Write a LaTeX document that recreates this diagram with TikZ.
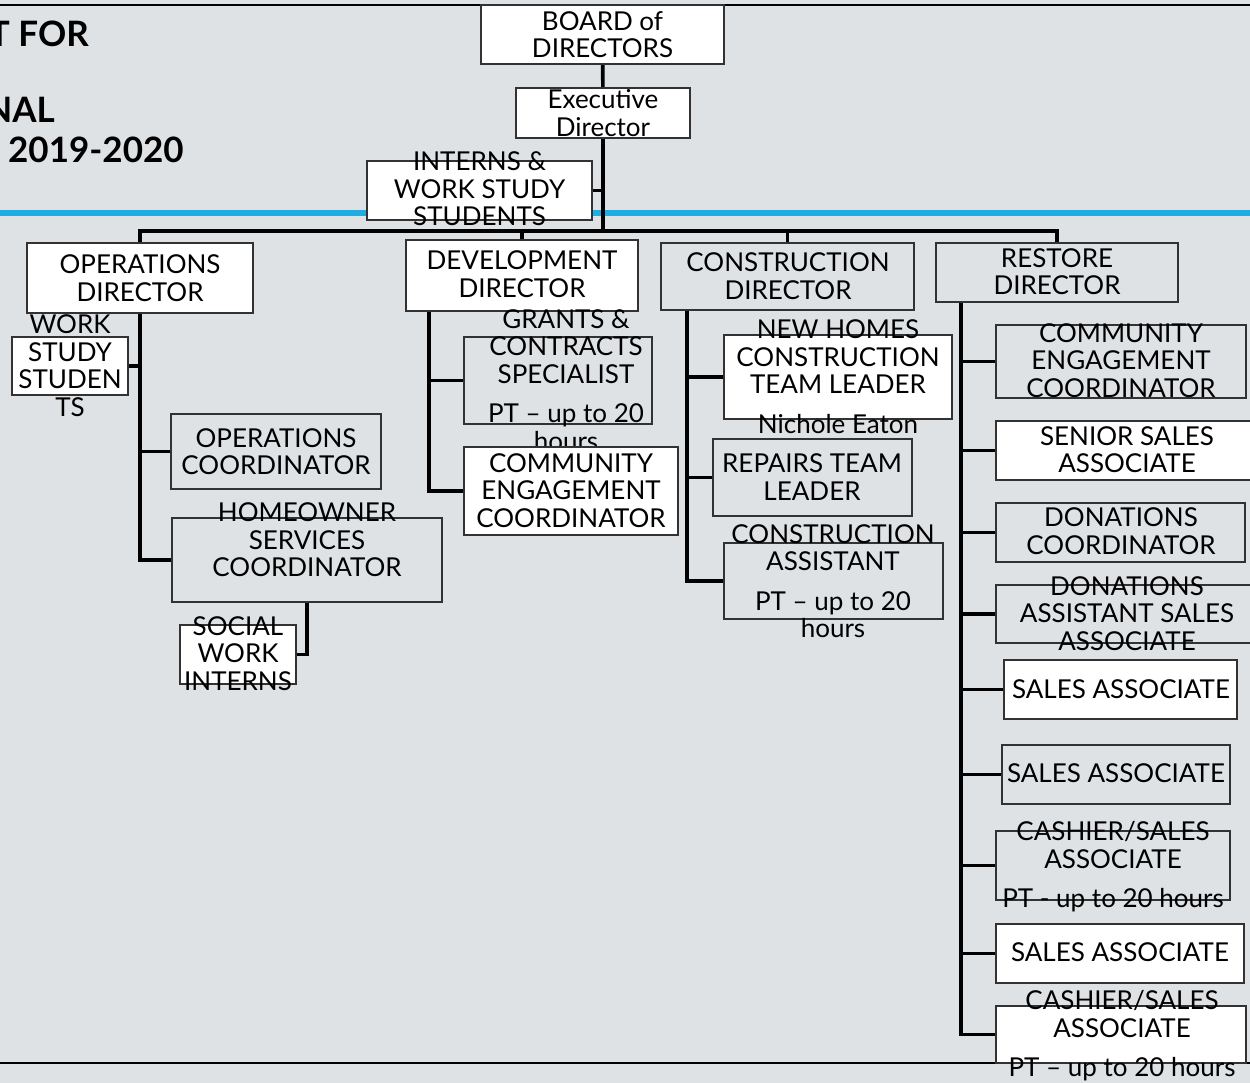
\documentclass[tikz,border=0pt]{standalone}
\usepackage{fontspec}
\setmainfont{Lato}
\usetikzlibrary{positioning}
\definecolor{slidegray}{RGB}{223,226,229}
\definecolor{slidelight}{RGB}{236,238,239}
\definecolor{accentblue}{RGB}{31,173,228}
\definecolor{boxedge}{RGB}{50,50,50}

\begin{document}
\begin{tikzpicture}[
    x=1pt, y=-1pt,
    box/.style={draw=boxedge, line width=2.4pt, inner sep=0pt},
    wbox/.style={box, fill=white},
    gbox/.style={box, fill=slidegray},
    txt/.style={font=\fontsize{26}{27.5}\selectfont, align=center, inner sep=0pt},
    link/.style={line width=3.6pt, black},
    title/.style={font=\fontsize{35}{37}\selectfont\bfseries, inner sep=0pt}
]
    \useasboundingbox (0,0) rectangle (1250,1083);
    \clip (0,0) rectangle (1250,1083);

    % Slide background
    \fill[slidegray] (0,0) rectangle (1250,1083);
    \shade[left color=slidegray, middle color=slidelight, right color=slidegray] (0,0) rectangle (1250,250);
    \draw[line width=1.5pt] (0,5) -- (1250,5);
    \draw[line width=1.5pt] (0,1063) -- (1250,1063);
    \draw[accentblue, line width=6pt] (0,213) -- (1250,213);

    % Title (cut off at the left)
    \node[title, anchor=east] (titleA) at (89,34) {T FOR};
    \node[title, anchor=east] (titleB) at (55,110) {NAL};
    \node[title, anchor=west] (titleC) at (8,150) {2019-2020};

    % Top
    \node[wbox, minimum width=243, minimum height=59] (board) at (602.5,34.5) {};
    \node[txt] (boardtxt) at (board) {BOARD of\\DIRECTORS};
    \node[wbox, minimum width=174, minimum height=50] (exec) at (603,113) {};
    \node[txt] (exectxt) at (exec) {Executive\\Director};
    \node[wbox, minimum width=225, minimum height=59] (interns) at (479.5,190.5) {};
    \node[txt] (internstxt) at (479.5,189) {INTERNS \&\\WORK STUDY\\STUDENTS};

    % Operations
    \node[wbox, minimum width=226, minimum height=70] (opsdir) at (140,278) {};
    \node[txt] (opsdirtxt) at (opsdir) {OPERATIONS\\DIRECTOR};
    \node[wbox, minimum width=116, minimum height=58] (workstudy) at (70,366) {};
    \node[txt] (workstudytxt) at (70,365.5) {WORK\\STUDY\\STUDEN\\TS};
    \node[gbox, minimum width=210, minimum height=75] (opscoord) at (276,451.5) {};
    \node[txt] (opscoordtxt) at (opscoord) {OPERATIONS\\COORDINATOR};
    \node[gbox, minimum width=270, minimum height=84] (homeowner) at (307,560) {};
    \node[txt] (homeownertxt) at (307,540) {HOMEOWNER\\SERVICES\\COORDINATOR};
    \node[wbox, minimum width=116, minimum height=59] (social) at (238,654.5) {};
    \node[txt] (socialtxt) at (238,653.5) {SOCIAL\\WORK\\INTERNS};

    % Development
    \node[wbox, minimum width=232, minimum height=71] (devdir) at (522,275.5) {};
    \node[txt] (devdirtxt) at (522,274) {DEVELOPMENT\\DIRECTOR};
    \node[gbox, minimum width=188, minimum height=87] (grants) at (558,380.5) {};
    \node[txt] (grantstxt) at (566,380) {GRANTS \&\\CONTRACTS\\SPECIALIST\\[12pt]PT -- up to 20\\hours};
    \node[wbox, minimum width=214, minimum height=88] (commdev) at (571,491) {};
    \node[txt] (commdevtxt) at (571,490.5) {COMMUNITY\\ENGAGEMENT\\COORDINATOR};

    % Construction
    \node[gbox, minimum width=253, minimum height=67] (consdir) at (787.5,276.5) {};
    \node[txt] (consdirtxt) at (788,276) {CONSTRUCTION\\DIRECTOR};
    \node[wbox, minimum width=228, minimum height=84] (newhomes) at (838,377) {};
    \node[txt] (newhomestxt) at (838,376.5) {NEW HOMES\\CONSTRUCTION\\TEAM LEADER\\[12pt]Nichole Eaton};
    \node[gbox, minimum width=199, minimum height=77] (repairs) at (812.5,477.5) {};
    \node[txt] (repairstxt) at (812,477) {REPAIRS TEAM\\LEADER};
    \node[gbox, minimum width=219, minimum height=76] (consasst) at (833.5,581) {};
    \node[txt] (consassttxt) at (833,581) {CONSTRUCTION\\ASSISTANT\\[12pt]PT -- up to 20\\hours};

    % ReStore
    \node[gbox, minimum width=242, minimum height=59] (restoredir) at (1057,272.5) {};
    \node[txt] (restoredirtxt) at (1057,271.5) {RESTORE\\DIRECTOR};
    \node[gbox, minimum width=250, minimum height=73] (commres) at (1121,361.5) {};
    \node[txt] (commrestxt) at (1121,360.5) {COMMUNITY\\ENGAGEMENT\\COORDINATOR};
    \node[wbox, minimum width=266, minimum height=59] (senior) at (1129,450.5) {};
    \node[txt] (seniortxt) at (1127,449.5) {SENIOR SALES\\ASSOCIATE};
    \node[gbox, minimum width=249, minimum height=59] (donc) at (1120.5,532.5) {};
    \node[txt] (donctxt) at (1121,531) {DONATIONS\\COORDINATOR};
    \node[gbox, minimum width=266, minimum height=58] (donasst) at (1129,614) {};
    \node[txt] (donassttxt) at (1127,613.5) {DONATIONS\\ASSISTANT SALES\\ASSOCIATE};
    \node[wbox, minimum width=233, minimum height=59] (salesA) at (1120.5,689.5) {};
    \node[txt] (salesAtxt) at (1121,689) {SALES ASSOCIATE};
    \node[gbox, minimum width=228, minimum height=59] (salesB) at (1116,774.5) {};
    \node[txt] (salesBtxt) at (1116,773) {SALES ASSOCIATE};
    \node[gbox, minimum width=234, minimum height=69] (cashierA) at (1113,865.5) {};
    \node[txt] (cashierAtxt) at (1113,867) {CASHIER/SALES\\ASSOCIATE\\[12pt]PT - up to 20 hours};
    \node[wbox, minimum width=248, minimum height=59] (salesC) at (1120,953.5) {};
    \node[txt] (salesCtxt) at (1120,952) {SALES ASSOCIATE};
    \node[wbox, minimum width=250, minimum height=57] (cashierB) at (1121,1034.5) {};
    \node[txt] (cashierBtxt) at (1122,1036) {CASHIER/SALES\\ASSOCIATE\\[12pt]PT -- up to 20 hours};

    % Connectors
    \coordinate (bus) at (603,231);
    \draw[link] (board) -- (exec);
    \draw[link] (exec.south) -- (bus);
    \draw[link] (exec.south) |- (interns.east);
    \draw[link] (opsdir.north) |- (bus) -| (restoredir.north);
    \draw[link] (bus) -| (devdir.north);
    \draw[link] (bus) -| (consdir.north);

    \draw[link] (opsdir.south) |- (workstudy.east);
    \draw[link] (opsdir.south) |- (opscoord.west);
    \draw[link] (opsdir.south) |- (homeowner.west);
    \draw[link] (homeowner.south) |- (social.east);

    \draw[link] ([xshift=24pt]devdir.south west) |- (grants.west);
    \draw[link] ([xshift=24pt]devdir.south west) |- (commdev.west);

    \draw[link] ([xshift=27pt]consdir.south west) |- (newhomes.west);
    \draw[link] ([xshift=27pt]consdir.south west) |- (repairs.west);
    \draw[link] ([xshift=27pt]consdir.south west) |- (consasst.west);

    \foreach \shop in {commres, senior, donc, donasst, salesA, salesB, cashierA, salesC, cashierB}
        \draw[link] ([xshift=26pt]restoredir.south west) |- (\shop.west);

\end{tikzpicture}
\end{document}
